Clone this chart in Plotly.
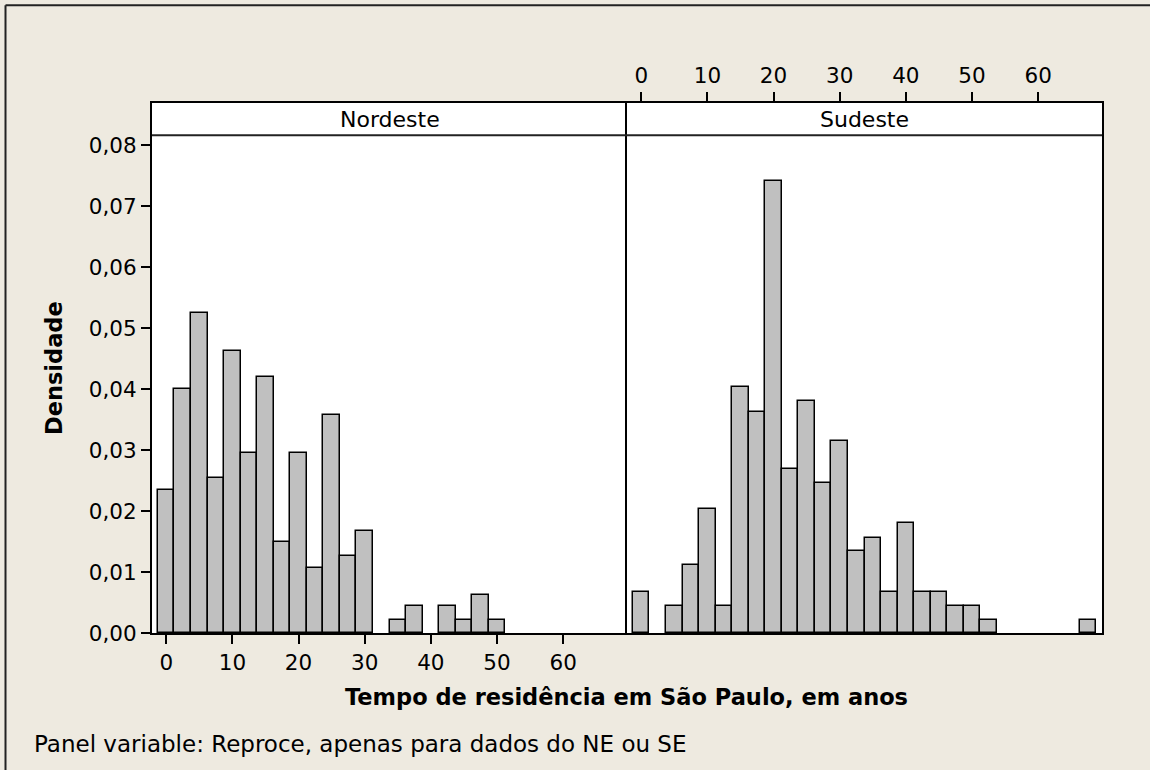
import plotly.graph_objects as go
from plotly.subplots import make_subplots

# bin centres (width 2.5 years) and densities; None = empty bin
bins_ne = [0, 2.5, 5, 7.5, 10, 12.5, 15, 17.5, 20, 22.5, 25, 27.5, 30,
           32.5, 35, 37.5, 40, 42.5, 45, 47.5, 50]
dens_ne = [0.0234, 0.0400, 0.0525, 0.0254, 0.0463, 0.0296, 0.0420, 0.0149,
           0.0296, 0.0106, 0.0358, 0.0126, 0.0168, None, 0.0021, 0.0044, None,
           0.0044, 0.0021, 0.0063, 0.0021]

bins_se = [0, 2.5, 5, 7.5, 10, 12.5, 15, 17.5, 20, 22.5, 25, 27.5, 30,
           32.5, 35, 37.5, 40, 42.5, 45, 47.5, 50, 52.5, 55, 57.5, 60,
           62.5, 65, 67.5]
dens_se = [0.0068, None, 0.0045, 0.0112, 0.0203, 0.0045, 0.0404, 0.0362,
           0.0742, 0.0269, 0.0381, 0.0246, 0.0315, 0.0134, 0.0156, 0.0068,
           0.0181, 0.0068, 0.0068, 0.0045, 0.0045, 0.0022, None, None, None,
           None, None, 0.0022]

panels = ["Nordeste", "Sudeste"]
x_ticks = [0, 10, 20, 30, 40, 50, 60]
y_ticks = [0, 0.01, 0.02, 0.03, 0.04, 0.05, 0.06, 0.07, 0.08]

FONT = "DejaVu Sans"
BG = "#EEEAE0"
STRIP_Y = 497.8 / 530  # bottom of the panel strip, in paper units

fig = make_subplots(rows=1, cols=2, shared_yaxes=True, horizontal_spacing=0)

for i, (b, d) in enumerate([(bins_ne, dens_ne), (bins_se, dens_se)]):
    fig.add_trace(
        go.Bar(
            x=b, y=d, width=2.5, name=panels[i],
            marker=dict(color="#C0C0C0", line=dict(color="black", width=1.5)),
            showlegend=False,
        ),
        row=1, col=i + 1
    )

# eixos
axis_common = dict(
    range=[-2.15, 69.65], showline=True, linecolor="black", linewidth=2,
    mirror=True, showgrid=False, zeroline=False, tickvals=x_ticks,
    ticks="outside", ticklen=9, tickwidth=2, tickcolor="black",
    tickfont=dict(family=FONT, size=21.5, color="black"),
)
fig.update_xaxes(**axis_common, side="bottom", row=1, col=1)
fig.update_xaxes(**axis_common, side="top", row=1, col=2)

fig.update_yaxes(
    range=[0, 530 / 6095], showline=True, linecolor="black", linewidth=2,
    showgrid=False, zeroline=False,
    ticks="outside", ticklen=9, tickwidth=2, tickcolor="black",
    tickvals=y_ticks, tickformat=".2f",
    tickfont=dict(family=FONT, size=21.5, color="black"),
)
fig.update_yaxes(mirror=False, row=1, col=1)
fig.update_yaxes(ticks="", showticklabels=False, mirror=True, row=1, col=2)

# faixas dos painéis
fig.add_shape(type="line", xref="paper", yref="paper", x0=0, x1=1,
              y0=STRIP_Y, y1=STRIP_Y, line=dict(color="#222222", width=2))
for i, name in enumerate(panels):
    fig.add_annotation(x=0.25 + 0.5 * i, y=(STRIP_Y + 1) / 2, xref="paper", yref="paper",
                       text=name, showarrow=False, xanchor="center", yanchor="middle",
                       font=dict(family=FONT, size=22, color="black"))

# moldura externa (só topo e esquerda aparecem no recorte)
fig.add_shape(type="line", xref="paper", yref="paper", x0=-0.1542, x1=1.2,
              y0=1.1845, y1=1.1845, line=dict(color="#222222", width=2))
fig.add_shape(type="line", xref="paper", yref="paper", x0=-0.1542, x1=-0.1542,
              y0=1.1845, y1=-0.4, line=dict(color="#222222", width=2))

fig.add_annotation(x=(54 - 152) / 950, y=0.5, xref="paper", yref="paper",
                   text="<b>Densidade</b>", textangle=-90, showarrow=False,
                   xanchor="center", yanchor="middle",
                   font=dict(family=FONT, size=22.5, color="black"))
fig.add_annotation(x=(626 - 152) / 950, y=(633.3 - 697) / 530, xref="paper", yref="paper",
                   text="<b>Tempo de residência em São Paulo, em anos</b>",
                   showarrow=False, xanchor="center", yanchor="middle",
                   font=dict(family=FONT, size=22.5, color="black"))
fig.add_annotation(x=(32 - 152) / 950, y=(633.3 - 744) / 530, xref="paper", yref="paper",
                   text="Panel variable: Reproce, apenas para dados do NE ou SE",
                   showarrow=False, xanchor="left", yanchor="middle",
                   font=dict(family=FONT, size=23, color="black"))

fig.update_layout(
    width=1150, height=770,
    margin=dict(l=152, r=48, t=103, b=137),
    paper_bgcolor=BG, plot_bgcolor="white",
    separators=",.", bargap=0,
    font=dict(family=FONT, color="black"),
)

# sem a margem padrão do <body>, a figura fica em (0, 0)
fig.write_html("out.html",
               config={"displayModeBar": False},
               post_script="document.body.style.margin='0';"
                           "document.body.style.overflow='hidden';")
